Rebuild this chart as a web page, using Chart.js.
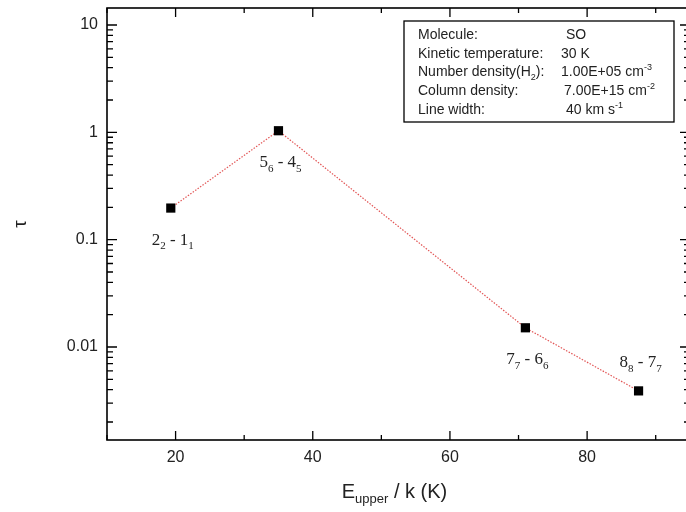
<!DOCTYPE html>
<html>
<head>
<meta charset="utf-8">
<script src="https://cdn.jsdelivr.net/npm/chart.js@4/dist/chart.umd.min.js"></script>
<style>
  html, body { margin: 0; padding: 0; background: #fff; overflow: hidden; }
  #wrap { width: 700px; height: 512px; position: relative; }
</style>
</head>
<body>
<div id="wrap"><canvas id="c" width="700" height="512"></canvas></div>
<script>
// SO transitions: upper energy (K) and optical depth
const upperEnergy = [19.3, 35.0, 71.0, 87.5];
const opticalDepth = [0.197, 1.035, 0.0151, 0.0039];
// transition labels J_K - J'_K'
const upperJ = ['2', '5', '7', '8'];
const upperN = ['2', '6', '7', '8'];
const lowerJ = ['1', '4', '6', '7'];
const lowerN = ['1', '5', '6', '7'];
const labelSide = ['below', 'below', 'below', 'above'];

const xTickValues = [20, 40, 60, 80];
const yTickValues = [0.01, 0.1, 1, 10];
const xRange = [10, 95];
const yRange = [0.00136, 14.4];

// model parameters shown in the box
const paramNames = ['Molecule:', 'Kinetic temperature:', 'Number density(H', 'Column density:', 'Line width:'];
const paramNameSub = ['', '', '2', '', ''];
const paramValues = ['SO', '30 K', '1.00E+05 cm', '7.00E+15 cm', '40 km s'];
const paramValueSup = ['', '', '-3', '-2', '-1'];

const SANS = '"Liberation Sans", Arial, sans-serif';
const SERIF = '"Liberation Serif", "Times New Roman", serif';

// draw a run of text pieces (normal / subscript / superscript) starting at x
function drawPieces(ctx, pieces, x, y, size, align) {
  const small = Math.round(size * 0.66);
  let total = 0;
  const widths = pieces.map(p => {
    ctx.font = (p.s ? small : size) + 'px ' + p.f;
    const w = ctx.measureText(p.t).width;
    total += w;
    return w;
  });
  let cx = align === 'center' ? x - total / 2 : x;
  ctx.textBaseline = 'middle';
  ctx.textAlign = 'left';
  pieces.forEach((p, i) => {
    ctx.font = (p.s ? small : size) + 'px ' + p.f;
    let dy = 0;
    if (p.s === 'sub') dy = size * 0.36;
    if (p.s === 'sup') dy = -size * 0.36;
    ctx.fillText(p.t, cx, y + dy);
    cx += widths[i];
  });
}

const decorations = {
  id: 'decorations',
  afterDraw(chart) {
    const ctx = chart.ctx;
    const ca = chart.chartArea;
    const xs = chart.scales.x, ys = chart.scales.y;
    ctx.save();

    // frame
    ctx.strokeStyle = '#000';
    ctx.lineWidth = 1.6;
    ctx.strokeRect(ca.left, ca.top, ca.right - ca.left, ca.bottom - ca.top);

    // x ticks (inward, bottom and top)
    ctx.lineWidth = 1.3;
    for (let v = xRange[0]; v <= xRange[1]; v += 10) {
      const px = xs.getPixelForValue(v);
      const len = xTickValues.includes(v) ? 9 : 5;
      ctx.beginPath();
      ctx.moveTo(px, ca.bottom); ctx.lineTo(px, ca.bottom - len);
      ctx.moveTo(px, ca.top); ctx.lineTo(px, ca.top + len);
      ctx.stroke();
    }
    // y ticks (inward, left and right), decades plus 2..9 minors
    for (let d = -3; d <= 1; d++) {
      for (let m = 1; m <= 9; m++) {
        const v = m * Math.pow(10, d);
        if (v < yRange[0] || v > yRange[1]) continue;
        const py = ys.getPixelForValue(v);
        const len = m === 1 ? 10 : 6;
        ctx.beginPath();
        ctx.moveTo(ca.left, py); ctx.lineTo(ca.left + len, py);
        ctx.moveTo(ca.right, py); ctx.lineTo(ca.right - len, py);
        ctx.stroke();
      }
    }

    // transition labels
    ctx.fillStyle = '#222';
    const meta = chart.getDatasetMeta(0);
    meta.data.forEach((pt, i) => {
      const dy = labelSide[i] === 'above' ? -28 : 32;
      drawPieces(ctx, [
        { t: upperJ[i], f: SERIF },
        { t: upperN[i], f: SERIF, s: 'sub' },
        { t: ' - ', f: SERIF },
        { t: lowerJ[i], f: SERIF },
        { t: lowerN[i], f: SERIF, s: 'sub' }
      ], pt.x + 2, pt.y + dy, 17, 'center');
    });

    // x axis title with subscript
    ctx.fillStyle = '#222';
    drawPieces(ctx, [
      { t: 'E', f: SANS },
      { t: 'upper', f: SANS, s: 'sub' },
      { t: ' / k (K)', f: SANS }
    ], (ca.left + ca.right) / 2 - 4, 492, 20, 'center');

    // parameter box
    const bx = 404, by = 21, bw = 270, bh = 101;
    ctx.fillStyle = '#fff';
    ctx.fillRect(bx, by, bw, bh);
    ctx.strokeStyle = '#000';
    ctx.lineWidth = 1.3;
    ctx.strokeRect(bx, by, bw, bh);
    ctx.fillStyle = '#222';
    const valueX = [570, 565, 565, 568, 570];
    paramNames.forEach((name, i) => {
      const y = by + 14 + i * 18.8;
      const left = [{ t: name, f: SANS }];
      if (paramNameSub[i]) {
        left.push({ t: paramNameSub[i], f: SANS, s: 'sub' });
        left.push({ t: '):', f: SANS });
      }
      drawPieces(ctx, left, bx + 14, y, 14, 'left');
      const right = [{ t: paramValues[i], f: SANS }];
      if (paramValueSup[i]) right.push({ t: paramValueSup[i], f: SANS, s: 'sup' });
      drawPieces(ctx, right, valueX[i] - 4, y, 14, 'left');
    });

    ctx.restore();
  }
};

new Chart(document.getElementById('c'), {
  type: 'line',
  data: {
    datasets: [{
      data: upperEnergy.map((e, i) => ({ x: e, y: opticalDepth[i] })),
      borderColor: '#e25555',
      borderWidth: 1.2,
      borderDash: [1.5, 1.5],
      pointStyle: 'rect',
      pointRadius: 6.5,
      pointBackgroundColor: '#000',
      pointBorderColor: '#000',
      pointBorderWidth: 0,
      tension: 0,
      fill: false
    }]
  },
  options: {
    responsive: false,
    animation: false,
    devicePixelRatio: 1,
    layout: { padding: { top: 8, right: 10, left: 0, bottom: 0 } },
    plugins: { legend: { display: false }, tooltip: { enabled: false } },
    scales: {
      x: {
        type: 'linear',
        min: xRange[0], max: xRange[1],
        grid: { display: false, drawTicks: false },
        border: { display: false },
        afterBuildTicks: s => { s.ticks = xTickValues.map(v => ({ value: v })); },
        afterFit: s => { s.height = 72; s.paddingLeft = 0; s.paddingRight = 0; },
        ticks: {
          padding: 8,
          color: '#222',
          font: { family: SANS, size: 16 },
          callback: v => String(v)
        }
      },
      y: {
        type: 'logarithmic',
        min: yRange[0], max: yRange[1],
        grid: { display: false, drawTicks: false },
        border: { display: false },
        afterBuildTicks: s => { s.ticks = yTickValues.map(v => ({ value: v })); },
        afterFit: s => { s.width = 107; s.paddingTop = 0; s.paddingBottom = 0; },
        ticks: {
          padding: 9,
          color: '#222',
          font: { family: SANS, size: 16 },
          callback: v => String(v)
        },
        title: {
          display: true,
          text: 'τ',
          color: '#222',
          font: { family: SANS, size: 19 },
          padding: { top: 9, bottom: 0 }
        }
      }
    }
  },
  plugins: [decorations]
});
</script>
</body>
</html>
